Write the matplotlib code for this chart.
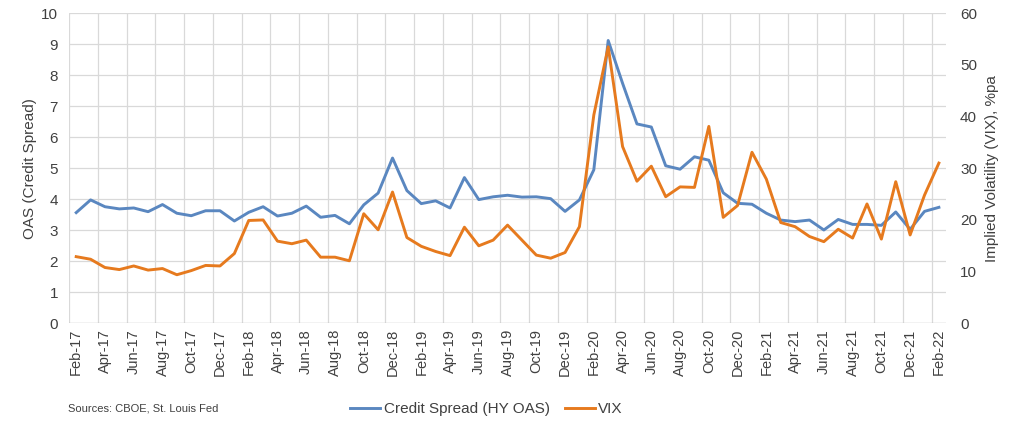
import pandas as pd
import matplotlib
matplotlib.use('Agg')
import matplotlib.pyplot as plt

# Monthly observations, Feb-17 .. Feb-22
months = pd.date_range('2017-02-01', periods=61, freq='MS').strftime('%b-%y').tolist()

# High-yield option-adjusted spread (left axis)
oas = [3.57, 3.98, 3.76, 3.69, 3.72, 3.60, 3.83, 3.55, 3.47, 3.63,
       3.63, 3.30, 3.58, 3.76, 3.46, 3.55, 3.78, 3.42, 3.48, 3.21,
       3.82, 4.20, 5.33, 4.28, 3.86, 3.95, 3.72, 4.70, 3.99, 4.08,
       4.13, 4.07, 4.08, 4.02, 3.61, 3.98, 4.95, 9.12, 7.74, 6.43,
       6.33, 5.08, 4.97, 5.37, 5.26, 4.21, 3.87, 3.84, 3.55, 3.33,
       3.28, 3.33, 3.01, 3.35, 3.19, 3.19, 3.16, 3.59, 3.03, 3.61,
       3.74]

# VIX (right axis)
vix = [12.9, 12.4, 10.8, 10.4, 11.1, 10.3, 10.6, 9.4, 10.2, 11.2,
       11.1, 13.5, 19.9, 20.0, 15.9, 15.4, 16.1, 12.8, 12.8, 12.1,
       21.2, 18.1, 25.4, 16.6, 14.9, 13.9, 13.1, 18.6, 15.0, 16.1,
       19.0, 16.1, 13.2, 12.6, 13.7, 18.7, 40.3, 53.5, 34.2, 27.5,
       30.4, 24.5, 26.4, 26.3, 38.1, 20.5, 22.8, 33.1, 27.9, 19.5,
       18.7, 16.8, 15.8, 18.2, 16.5, 23.1, 16.3, 27.4, 17.1, 24.8,
       31.0]

blue = '#5A87C0'
orange = '#E67A1E'
grid = '#D9D9D9'
txt = '#404040'

plt.rcParams['font.family'] = ['Liberation Sans', 'DejaVu Sans']

fig = plt.figure(figsize=(10.24, 4.26), dpi=100)
ax = fig.add_axes([0.0674, 0.241, 0.8565, 0.728])
ax2 = ax.twinx()

x = list(range(len(months)))
l1, = ax.plot(x, oas, color=blue, lw=2.1, label='Credit Spread (HY OAS)', zorder=3)
l2, = ax2.plot(x, vix, color=orange, lw=2.1, label='VIX', zorder=3)

ax.set_xlim(-0.5, len(months) - 0.5)
ax.set_ylim(0, 10)
ax2.set_ylim(0, 60)
ax.set_yticks(range(0, 11))
ax2.set_yticks(range(0, 61, 10))

# vertical gridlines between every second category, as in Excel
for g in range(0, len(months), 2):
    ax.axvline(g - 0.5, color=grid, lw=0.9, zorder=0)
for v in range(1, 11):
    ax.axhline(v, color=grid, lw=0.9, zorder=0)
ax.axhline(0, color='#BFBFBF', lw=1.0, zorder=1)

ax.set_xticks(x[::2])
ax.set_xticklabels(months[::2], rotation=90, fontsize=10.5, color=txt)
ax.tick_params(axis='x', length=0, pad=4)
ax.tick_params(axis='y', length=0, labelsize=11, colors=txt, pad=8)
ax2.tick_params(axis='y', length=0, labelsize=11, colors=txt, pad=10)

for a in (ax, ax2):
    for s in a.spines.values():
        s.set_visible(False)

ax.set_ylabel('OAS (Credit Spread)', fontsize=11, color=txt, labelpad=3)
ax2.set_ylabel('Implied Volatility (VIX), %pa', fontsize=11, color=txt, labelpad=6)

fig.legend(handles=[l1, l2], loc='center', bbox_to_anchor=(0.475, 0.04), ncol=2,
           frameon=False, fontsize=11, handlelength=2.0, columnspacing=1.0,
           handletextpad=0.2, labelcolor=txt)
fig.text(0.066, 0.04, 'Sources: CBOE, St. Louis Fed', fontsize=8, color=txt, va='center')

fig.savefig('out.png', dpi=100)
